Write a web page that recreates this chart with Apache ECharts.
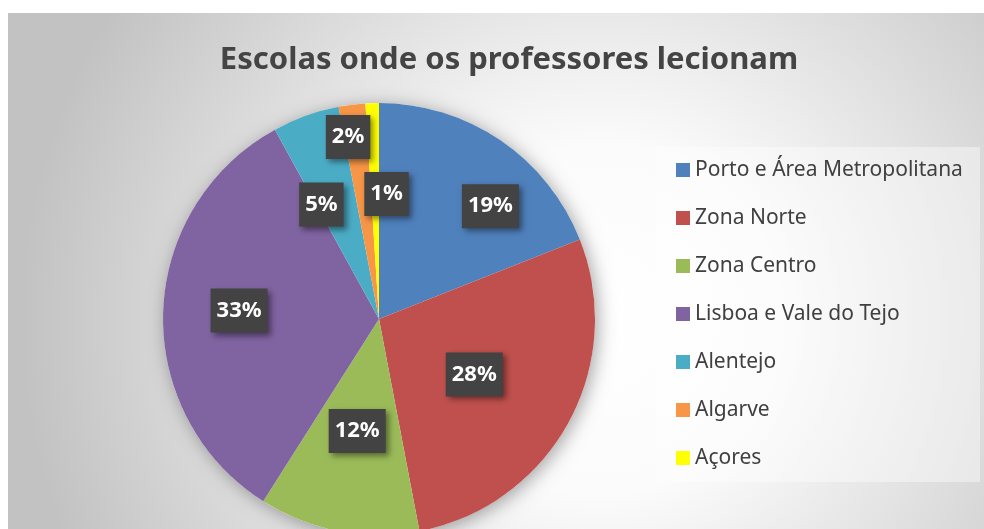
<!DOCTYPE html>
<html>
<head>
<meta charset="utf-8">
<style>
  html, body { margin: 0; padding: 0; background: #ffffff; }
  #chart { width: 984px; height: 529px; }
</style>
<script src="https://cdn.jsdelivr.net/npm/echarts@6/dist/echarts.min.js"></script>
</head>
<body>
<div id="chart"></div>
<script>
var regions = ['Porto e Área Metropolitana', 'Zona Norte', 'Zona Centro', 'Lisboa e Vale do Tejo', 'Alentejo', 'Algarve', 'Açores'];
var shares = [19, 28, 12, 33, 5, 2, 1];
var colors = ['#4f81bd', '#c0504d', '#9bbb59', '#8064a2', '#4bacc6', '#f79646', '#ffff00'];
// nudges for the labels, Excel "best fit" moves some of them away from the middle
var labelShift = [[49, -21], [-2, 2], [-1, 3], [-29, -5], [-20, -10], [-17, -72], [11, -14]];

var chart = echarts.init(document.getElementById('chart'));

var pieData = regions.map(function (name, i) {
  return {
    name: name,
    value: shares[i],
    itemStyle: { color: colors[i] },
    label: { offset: labelShift[i] }
  };
});

var option = {
  animation: false,
  backgroundColor: '#ffffff',
  color: colors,
  title: {
    text: 'Escolas onde os professores lecionam',
    left: 504,
    top: 35,
    textAlign: 'center',
    textStyle: {
      fontFamily: 'Noto Sans',
      fontWeight: 'bold',
      fontSize: 31,
      lineHeight: 40,
      color: '#444444'
    }
  },
  graphic: [{
    type: 'rect',
    z: -10,
    silent: true,
    shape: { x: 8, y: 13, width: 976, height: 520 },
    style: {
      fill: {
        type: 'radial', x: 600, y: 320, r: 580, global: true,
        colorStops: [
          { offset: 0, color: '#ffffff' },
          { offset: 0.3, color: '#fbfbfb' },
          { offset: 1, color: '#c2c2c2' }
        ]
      }
    }
  }, {
    type: 'rect',
    z: -5,
    silent: true,
    shape: { x: 657, y: 147, width: 323, height: 335 },
    style: { fill: 'rgba(255,255,255,0.4)' }
  }],
  legend: {
    orient: 'vertical',
    left: 676,
    top: 159,
    padding: 0,
    itemGap: 26,
    itemWidth: 14,
    itemHeight: 14,
    icon: 'rect',
    data: regions,
    textStyle: {
      fontFamily: 'Noto Sans',
      fontSize: 21,
      lineHeight: 22,
      color: '#404040'
    }
  },
  series: [{
    name: 'sombra',
    type: 'pie',
    silent: true,
    z: 1,
    center: [379, 319],
    radius: 216,
    label: { show: false },
    labelLine: { show: false },
    itemStyle: {
      color: '#ffffff',
      shadowBlur: 18,
      shadowColor: 'rgba(0,0,0,0.35)',
      shadowOffsetX: 3,
      shadowOffsetY: 3
    },
    data: [{ name: '', value: 1 }]
  }, {
    name: 'Escolas',
    type: 'pie',
    z: 2,
    center: [379, 319],
    radius: 216,
    startAngle: 90,
    clockwise: true,
    avoidLabelOverlap: false,
    label: {
      show: true,
      position: 'inside',
      formatter: '{c}%',
      fontFamily: 'Noto Sans',
      fontWeight: 'bold',
      fontSize: 22,
      lineHeight: 24,
      color: '#ffffff',
      backgroundColor: '#434343',
      padding: [10, 6],
      shadowColor: 'rgba(0,0,0,0.45)',
      shadowBlur: 6,
      shadowOffsetX: 3,
      shadowOffsetY: 3
    },
    labelLine: { show: false },
    emphasis: { disabled: true },
    data: pieData
  }]
};

chart.setOption(option);
</script>
</body>
</html>
